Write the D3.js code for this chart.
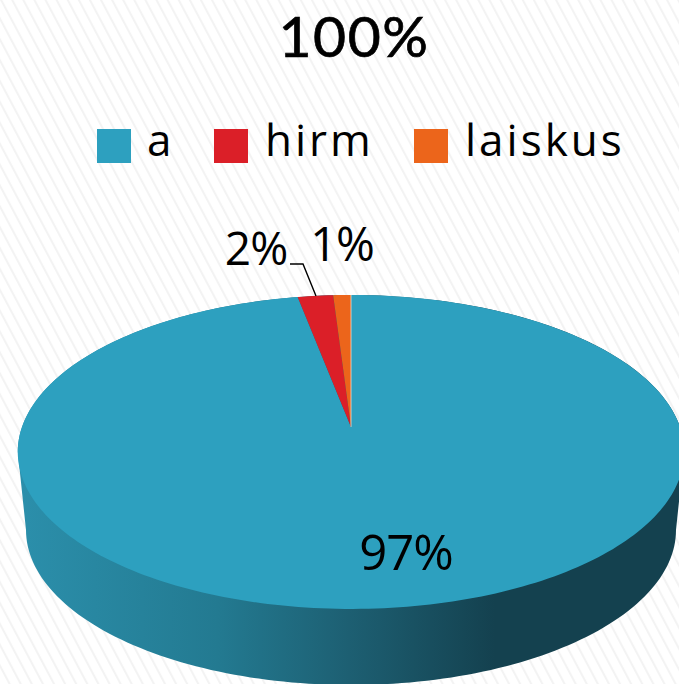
<!DOCTYPE html>
<html><head><meta charset="utf-8">
<script src="https://cdn.jsdelivr.net/npm/d3@7/dist/d3.min.js"></script>
<style>html,body{margin:0;padding:0;background:#fff;overflow:hidden}svg{display:block}text{font-family:"Open Sans",sans-serif;fill:#000}</style>
</head><body><svg id="c" width="679" height="684"></svg>
<script>
const categories = ["a","hirm","laiskus"];
const values = [97,2,1];
const labels = ["97%","2%","1%"];
const colors = ["#2da0bf","#db1f28","#ec651b"];
const titleText = "100%";

(function(){
const W=679,H=684;
const svg=d3.select("#c");
const defs=svg.append("defs");
const pat=defs.append("pattern").attr("id","bg").attr("patternUnits","userSpaceOnUse")
  .attr("width",9.8).attr("height",9.8).attr("patternTransform","rotate(-28)");
pat.append("rect").attr("width",9.8).attr("height",9.8).attr("fill","#fff");
pat.append("rect").attr("width",2).attr("height",9.8).attr("fill","#f3f3f3");
svg.append("rect").attr("width",W).attr("height",H).attr("fill","url(#bg)");

const grad=defs.append("linearGradient").attr("id","wall").attr("gradientUnits","userSpaceOnUse")
  .attr("x1",20).attr("x2",679).attr("y1",0).attr("y2",0);
[[0,"#2b8fab"],[.3,"#237a91"],[.5,"#1d5f72"],[.72,"#14414f"],[1,"#14414f"]]
 .forEach(s=>grad.append("stop").attr("offset",s[0]).attr("stop-color",s[1]));

// perspective projection of the unit disc onto the page
const cx=351,R=329,c=0.159,a=-85.1,b=427;
const proj=t=>{const u=Math.sin(t),v=Math.cos(t),w=1+c*v;return [cx+R*u/w,(a*v+b)/w];};
const line=d3.line();
const full=d3.range(0,361,1.5).map(d=>d*Math.PI/180);

// side wall
const rimBottom=d3.range(90,271,1.5).map(d=>{const t=d*Math.PI/180;return [cx+325*Math.sin(t),530-155*Math.cos(t)];});
const rimBack=full.map(proj).filter(p=>p[1]<=452).sort((p,q)=>p[0]-q[0]);
svg.append("path").attr("d",line(rimBottom.concat(rimBack))+"Z").attr("fill","url(#wall)");

// top face
const pie=d3.pie().sort(null).value(d=>d);
const arcs=pie(values);
svg.selectAll("path.slice").data(arcs).join("path").attr("class","slice")
  .attr("fill",(d,i)=>colors[i])
  .attr("d",d=>{
    const n=Math.max(4,Math.ceil((d.endAngle-d.startAngle)/0.02));
    const pts=d3.range(n+1).map(k=>proj(d.startAngle+(d.endAngle-d.startAngle)*k/n));
    return line([[cx,b]].concat(pts))+"Z";
  });
const apexTop=proj(0);
svg.append("line").attr("x1",cx).attr("y1",b).attr("x2",apexTop[0]).attr("y2",apexTop[1])
  .attr("stroke","#f3d9c8").attr("stroke-width",.8);

// title
svg.append("text").attr("x",354).attr("y",57).attr("text-anchor","middle")
  .style("font-family","Lato, sans-serif")
  .attr("font-size",57).attr("letter-spacing",1.5).attr("stroke","#000").attr("stroke-width",.7).text(titleText);

// legend
const swX=[97,214,414], txtX=[147,265,465];
categories.forEach((n,i)=>{
  svg.append("rect").attr("x",swX[i]).attr("y",129).attr("width",34).attr("height",34).attr("fill",colors[i]);
  svg.append("text").attr("x",txtX[i]).attr("y",156).attr("font-size",44).attr("letter-spacing",3).text(n);
});

// data labels
const lblPos=[[406,570],[256,265],[342,261]];
const lblSize=[49,46,47];
labels.forEach((l,i)=>svg.append("text").attr("x",lblPos[i][0]).attr("y",lblPos[i][1])
  .attr("text-anchor","middle").attr("font-size",lblSize[i]).attr("letter-spacing",-1).text(l));
svg.append("polyline").attr("points","290,264 303,264 316,296").attr("fill","none")
  .attr("stroke","#000").attr("stroke-width",1.4);
})();
</script></body></html>
